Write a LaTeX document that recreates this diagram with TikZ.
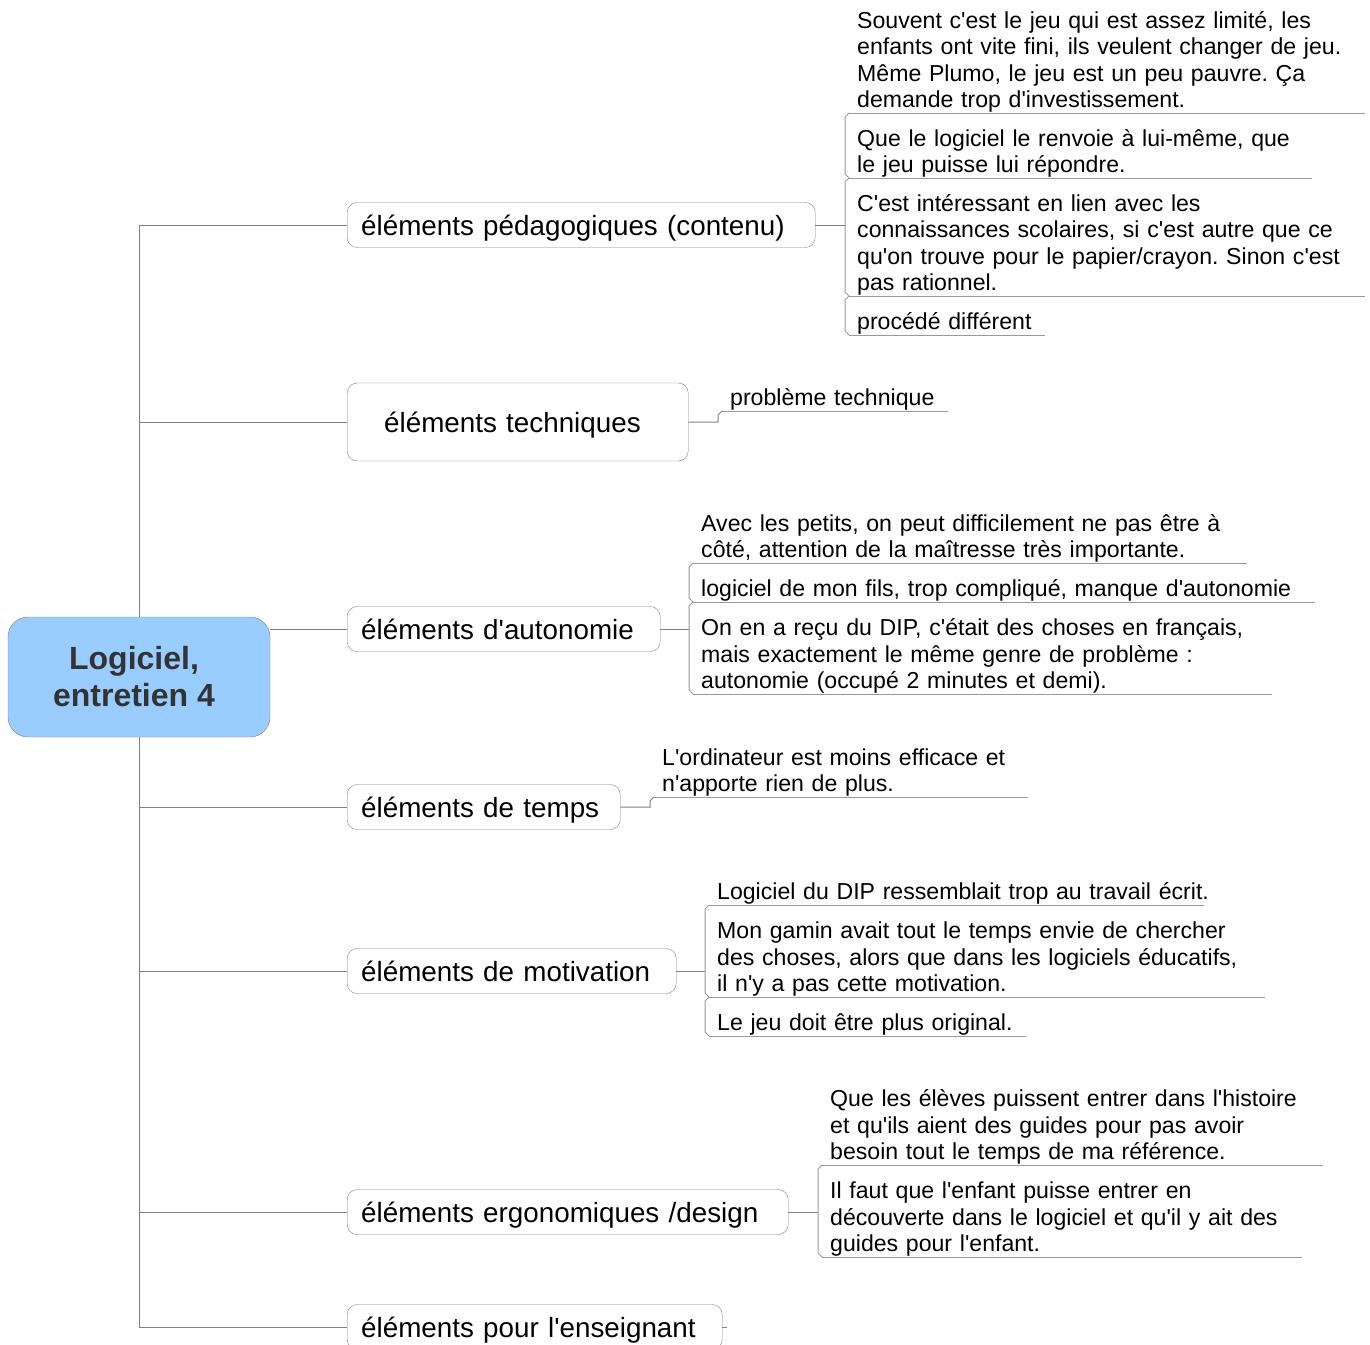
\documentclass[tikz,border=0pt]{standalone}
\usepackage{fontspec}
\setmainfont{Liberation Sans}[Ligatures=TeXOff]
\frenchspacing
\definecolor{linegray}{HTML}{808080}
\definecolor{ulgray}{HTML}{999999}
\definecolor{rootblue}{HTML}{99CCFF}
\definecolor{roottext}{HTML}{333333}
\tikzset{
  root/.style={draw=linegray, fill=rootblue, rounded corners=20pt, minimum width=262pt,
    minimum height=120pt, align=center, text=roottext,
    font=\fontsize{32}{37}\selectfont\bfseries},
  cat/.style={draw=linegray, rounded corners=10pt, anchor=west, align=left,
    inner xsep=14pt, minimum height=45pt, text height=25pt, text depth=5pt,
    font=\fontsize{27.8}{32}\selectfont},
  leaf/.style={anchor=south west, align=left, inner xsep=0pt, inner ysep=0.6pt,
    font=\fontsize{23.1}{26.3}\selectfont},
  branch/.style={draw=linegray, line width=1pt},
  uline/.style={draw=ulgray, line width=1pt}
}
\begin{document}
\begin{tikzpicture}[x=1pt,y=-1pt]
\useasboundingbox (0,0) rectangle (1370,1344);
% centre
\node[root] (root) at (139,677) {Logiciel,\kern10pt\\entretien 4\kern10pt};
% branches
\node[cat,text width=440pt] (pedago) at (347,225) {éléments pédagogiques (contenu)};
\node[cat,text width=267pt,inner xsep=37pt,minimum height=78pt] (tech) at (347,422) {éléments techniques};
\node[cat,text width=285pt] (auto) at (347,629) {éléments d'autonomie};
\node[cat,text width=245pt] (temps) at (347,807) {éléments de temps};
\node[cat,text width=301pt] (motiv) at (347,971) {éléments de motivation};
\node[cat,text width=413pt] (ergo) at (347,1212) {éléments ergonomiques /design};
\node[cat,text width=347pt] (enseign) at (347,1327) {éléments pour l'enseignant};
\draw[branch] (root.north) |- (pedago.west);
\draw[branch] (root.north) |- (tech.west);
\draw[branch] (root.east |- auto.west) -- (auto.west);
\foreach \c in {temps,motiv,ergo,enseign}
  \draw[branch] (root.south) |- (\c.west);
\draw[branch] (enseign.east) -- ++(5,0);
% leaves
\node[leaf,text width=508pt] (l1a) at (857,113) {Souvent c'est le jeu qui est assez limité, les\\enfants ont vite fini, ils veulent changer de jeu.\\Même Plumo, le jeu est un peu pauvre. Ça\\demande trop d'investissement.};
\node[leaf,text width=455pt] (l1b) at (857,178) {Que le logiciel le renvoie à lui-même, que\\le jeu puisse lui répondre.};
\node[leaf,text width=508pt] (l1c) at (857,296) {C'est intéressant en lien avec les\\connaissances scolaires, si c'est autre que ce\\qu'on trouve pour le papier/crayon. Sinon c'est\\pas rationnel.};
\node[leaf,text width=188pt] (l1d) at (857,335) {procédé différent};
\node[leaf,text width=218pt] (l2a) at (730,411) {problème technique};
\node[leaf,text width=546pt] (l3a) at (701,563) {Avec les petits, on peut difficilement ne pas être à\\côté, attention de la maîtresse très importante.};
\node[leaf,text width=614pt] (l3b) at (701,602) {logiciel de mon fils, trop compliqué, manque d'autonomie};
\node[leaf,text width=571pt] (l3c) at (701,694) {On en a reçu du DIP, c'était des choses en français,\\mais exactement le même genre de problème :\\autonomie (occupé 2 minutes et demi).};
\node[leaf,text width=366pt] (l4a) at (662,797) {L'ordinateur est moins efficace et\\n'apporte rien de plus.};
\node[leaf,text width=487pt] (l5a) at (717,905) {\mbox{Logiciel du DIP ressemblait trop au travail écrit.}};
\node[leaf,text width=548pt] (l5b) at (717,997) {Mon gamin avait tout le temps envie de chercher\\des choses, alors que dans les logiciels éducatifs,\\il n'y a pas cette motivation.};
\node[leaf,text width=309pt] (l5c) at (717,1036) {Le jeu doit être plus original.};
\node[leaf,text width=493pt] (l6a) at (830,1165) {Que les élèves puissent entrer dans l'histoire\\et qu'ils aient des guides pour pas avoir\\besoin tout le temps de ma référence.};
\node[leaf,text width=472pt] (l6b) at (830,1257) {Il faut que l'enfant puisse entrer en\\découverte dans le logiciel et qu'il y ait des\\guides pour l'enfant.};
\foreach \l in {l1a,l1b,l1c,l1d,l2a,l3a,l3b,l3c,l4a,l5a,l5b,l5c,l6a,l6b}
  \draw[uline] ([xshift=-8pt]\l.south west) -- (\l.south east);
\foreach \p/\k in {l1a/l1b,l1b/l1c,l1c/l1d,l3a/l3b,l3b/l3c,l5a/l5b,l5b/l5c,l6a/l6b}
  \draw[uline] ([xshift=-8pt]\p.south west) -- ([xshift=-12pt,yshift=-4pt]\p.south west)
    -- ([xshift=-12pt,yshift=4pt]\k.south west) -- ([xshift=-8pt]\k.south west);
% leaf connectors
\draw[branch] (pedago.east) -- ([xshift=-12pt]l1a.south west |- pedago.east);
\draw[branch] (tech.east) -| ([xshift=-12pt,yshift=-4pt]l2a.south west) -- ([xshift=-8pt]l2a.south west);
\draw[branch] (auto.east) -- ([xshift=-12pt]l3a.south west |- auto.east);
\draw[branch] (temps.east) -| ([xshift=-12pt,yshift=-4pt]l4a.south west) -- ([xshift=-8pt]l4a.south west);
\draw[branch] (motiv.east) -- ([xshift=-12pt]l5a.south west |- motiv.east);
\draw[branch] (ergo.east) -- ([xshift=-12pt]l6a.south west |- ergo.east);
\end{tikzpicture}
\end{document}
